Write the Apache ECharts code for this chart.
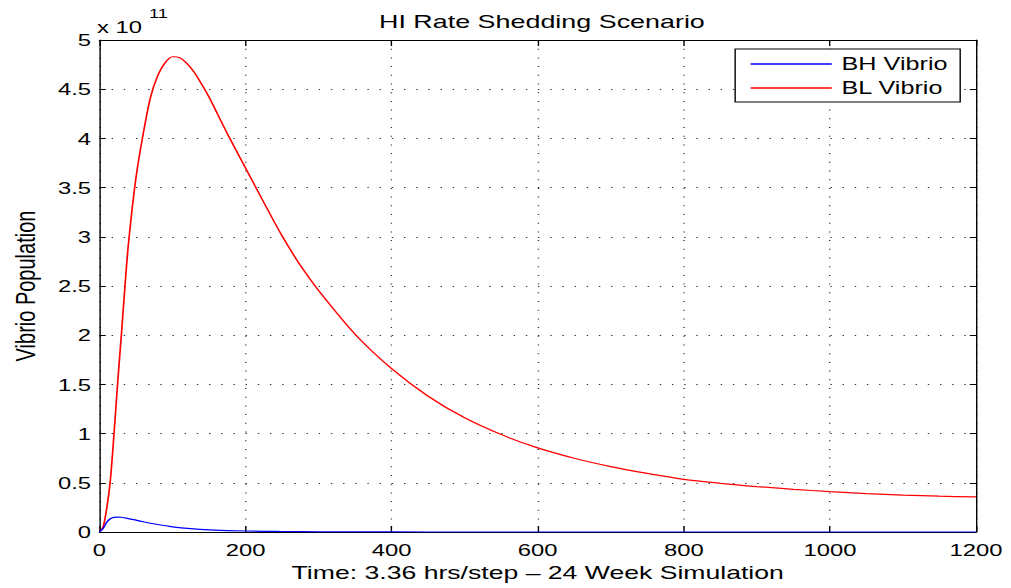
<!DOCTYPE html>
<html>
<head>
<meta charset="utf-8">
<title>HI Rate Shedding Scenario</title>
<script src="https://cdn.jsdelivr.net/npm/echarts@6/dist/echarts.min.js"></script>
<style>
  html, body { margin: 0; padding: 0; background: #fff; overflow: hidden; }
  /* the source figure is a MATLAB plot stretched sideways, so draw narrow and widen it */
  #chart { width: 722px; height: 588px; transform: scaleX(1.4003); transform-origin: 0 0; }
</style>
</head>
<body>
<div id="chart"></div>
<script>
  // time steps (x) and populations in units of 1e11 (y)
  const blTime = [0, 5, 10, 15, 20, 25, 30, 35, 40, 50, 60, 70, 80, 90, 100, 110, 120, 130, 140, 150, 175, 200, 225, 250, 275, 300, 350, 400, 450, 500, 550, 600, 650, 700, 750, 800, 850, 900, 950, 1000, 1050, 1100, 1150, 1200];
  const blVibrio = [0, 0.05, 0.24, 0.53, 1.0, 1.52, 2.0, 2.5, 2.95, 3.6, 4.05, 4.42, 4.64, 4.77, 4.83, 4.82, 4.76, 4.67, 4.55, 4.42, 4.05, 3.7, 3.35, 3.01, 2.71, 2.455, 2.01, 1.66, 1.38, 1.16, 0.99, 0.855, 0.75, 0.665, 0.595, 0.535, 0.495, 0.462, 0.434, 0.41, 0.39, 0.375, 0.364, 0.356];

  const bhTime = [0, 5, 10, 15, 20, 25, 30, 40, 50, 60, 80, 100, 125, 150, 200, 250, 300, 400, 500, 600, 800, 1000, 1200];
  const bhVibrio = [0, 0.035, 0.1, 0.135, 0.148, 0.152, 0.15, 0.136, 0.12, 0.104, 0.076, 0.053, 0.034, 0.022, 0.01, 0.005, 0.002, 0.0005, 0, 0, 0, 0, 0];

  const xTicks = { min: 0, max: 1200, interval: 200 };
  const yTicks = { min: 0, max: 5, interval: 0.5 };

  const font = "'Liberation Sans', Arial, Helvetica, sans-serif";
  const gridDots = { type: [1, 7.7], color: "#333", width: 1 };
  const frame = { show: true, onZero: false, lineStyle: { color: "#000", width: 1 } };

  const chart = echarts.init(document.getElementById("chart"), null, { renderer: "svg" });

  const pairs = (xs, ys) => xs.map((x, i) => [x, ys[i]]);

  chart.setOption({
    animation: false,
    backgroundColor: "#fff",
    title: {
      text: "HI Rate Shedding Scenario",
      left: 382,
      top: 7,
      textAlign: "center",
      textStyle: { fontFamily: font, fontSize: 19.2, fontWeight: "normal", color: "#000" }
    },
    grid: { left: 68.6, right: 25, top: 40, bottom: 56 },
    legend: {
      orient: "vertical",
      left: 525,
      top: 49,
      padding: [6, 9, 5, 11],
      icon: "rect",
      itemWidth: 58,
      itemHeight: 1.3,
      itemGap: 6,
      borderColor: "#000",
      borderWidth: 1,
      borderRadius: 0,
      backgroundColor: "#fff",
      data: ["BH Vibrio", "BL Vibrio"],
      textStyle: { fontFamily: font, fontSize: 18, color: "#000", width: 80, padding: [0, 0, 0, 2] }
    },
    graphic: [
      {
        type: "text",
        left: 69.3,
        top: 18,
        style: { text: "x 10", font: "17px " + font, fill: "#000" }
      },
      {
        type: "text",
        left: 106.4,
        top: 7,
        style: { text: "11", font: "13px " + font, fill: "#000" }
      }
    ],
    xAxis: [
      {
        type: "value",
        ...xTicks,
        name: "Time: 3.36 hrs/step \u2013 24 Week Simulation",
        nameLocation: "middle",
        nameGap: 29,
        nameTextStyle: { fontFamily: font, fontSize: 19, color: "#000" },
        axisLine: frame,
        axisTick: { show: true, inside: true, length: 6, lineStyle: { color: "#000" } },
        axisLabel: { fontFamily: font, fontSize: 17, color: "#000", margin: 9, formatter: (v) => String(v) },
        splitLine: { show: true, lineStyle: gridDots }
      },
      {
        type: "value",
        position: "top",
        ...xTicks,
        axisLine: frame,
        axisTick: { show: true, inside: true, length: 6, lineStyle: { color: "#000" } },
        axisLabel: { show: false },
        splitLine: { show: false }
      }
    ],
    yAxis: [
      {
        type: "value",
        ...yTicks,
        name: "Vibrio Population",
        nameLocation: "middle",
        nameGap: 43,
        nameTextStyle: { fontFamily: font, fontSize: 20, color: "#000" },
        axisLine: frame,
        axisTick: { show: true, inside: true, length: 4.5, lineStyle: { color: "#000" } },
        axisLabel: { fontFamily: font, fontSize: 17, color: "#000", margin: 6, formatter: (v) => String(v) },
        splitLine: { show: true, lineStyle: gridDots }
      },
      {
        type: "value",
        position: "right",
        ...yTicks,
        axisLine: frame,
        axisTick: { show: true, inside: true, length: 4.5, lineStyle: { color: "#000" } },
        axisLabel: { show: false },
        splitLine: { show: false }
      }
    ],
    series: [
      {
        name: "BL Vibrio",
        type: "line",
        data: pairs(blTime, blVibrio),
        symbol: "none",
        smooth: 0.3,
        lineStyle: { color: "#ff0000", width: 1.2 },
        itemStyle: { color: "#ff0000" }
      },
      {
        name: "BH Vibrio",
        type: "line",
        data: pairs(bhTime, bhVibrio),
        symbol: "none",
        smooth: 0.3,
        lineStyle: { color: "#0000ff", width: 1.2 },
        itemStyle: { color: "#0000ff" }
      }
    ]
  });
</script>
</body>
</html>
